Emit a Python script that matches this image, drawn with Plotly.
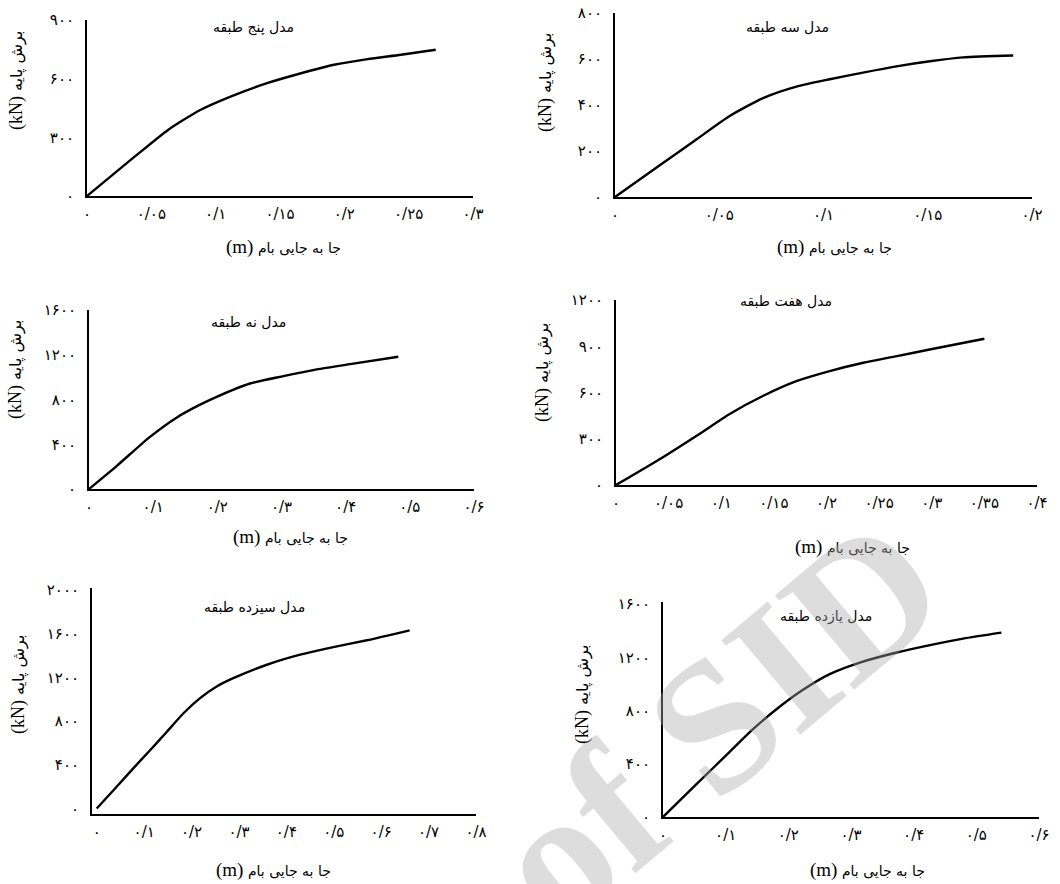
import plotly.graph_objects as go

W, H = 1060, 884

# ---------------- data ----------------
P1_X = [0, 0.037, 0.063, 0.088, 0.114, 0.140, 0.165, 0.192, 0.218, 0.244, 0.271]
P1_Y = [0, 201, 338, 440, 515, 577, 625, 671, 700, 722, 748]
P1_XT = [0, 0.05, 0.1, 0.15, 0.2, 0.25, 0.3]
P1_XL = ["۰", "۰/۰۵", "۰/۱", "۰/۱۵", "۰/۲", "۰/۲۵", "۰/۳"]
P1_YT = [0, 300, 600, 900]
P1_YL = ["۰", "۳۰۰", "۶۰۰", "۹۰۰"]

P2_X = [0, 0.023, 0.039, 0.055, 0.071, 0.087, 0.103, 0.119, 0.135, 0.151, 0.167, 0.191]
P2_Y = [0, 148, 250, 352, 430, 480, 512, 541, 568, 590, 607, 615]
P2_XT = [0, 0.05, 0.1, 0.15, 0.2]
P2_XL = ["۰", "۰/۰۵", "۰/۱", "۰/۱۵", "۰/۲"]
P2_YT = [0, 200, 400, 600, 800]
P2_YL = ["۰", "۲۰۰", "۴۰۰", "۶۰۰", "۸۰۰"]

P3_X = [0, 0.043, 0.095, 0.137, 0.170, 0.199, 0.251, 0.303, 0.355, 0.407, 0.482]
P3_Y = [0, 205, 466, 640, 745, 824, 943, 1009, 1069, 1116, 1182]
P3_XT = [0, 0.1, 0.2, 0.3, 0.4, 0.5, 0.6]
P3_XL = ["۰", "۰/۱", "۰/۲", "۰/۳", "۰/۴", "۰/۵", "۰/۶"]
P3_YT = [0, 400, 800, 1200, 1600]
P3_YL = ["۰", "۴۰۰", "۸۰۰", "۱۲۰۰", "۱۶۰۰"]

P4_X = [0, 0.045, 0.077, 0.108, 0.140, 0.172, 0.203, 0.235, 0.267, 0.298, 0.350]
P4_Y = [0, 182, 321, 461, 579, 675, 739, 793, 836, 879, 949]
P4_XT = [0, 0.05, 0.1, 0.15, 0.2, 0.25, 0.3, 0.35, 0.4]
P4_XL = ["۰", "۰/۰۵", "۰/۱", "۰/۱۵", "۰/۲", "۰/۲۵", "۰/۳", "۰/۳۵", "۰/۴"]
P4_YT = [0, 300, 600, 900, 1200]
P4_YL = ["۰", "۳۰۰", "۶۰۰", "۹۰۰", "۱۲۰۰"]

P5_X = [0, 0.042, 0.077, 0.113, 0.148, 0.183, 0.218, 0.253, 0.288, 0.359, 0.429, 0.499, 0.570, 0.660]
P5_Y = [0, 199, 368, 536, 704, 873, 1011, 1118, 1194, 1317, 1409, 1479, 1541, 1632]
P5_XT = [0, 0.1, 0.2, 0.3, 0.4, 0.5, 0.6, 0.7, 0.8]
P5_XL = ["۰", "۰/۱", "۰/۲", "۰/۳", "۰/۴", "۰/۵", "۰/۶", "۰/۷", "۰/۸"]
P5_YT = [0, 400, 800, 1200, 1600, 2000]
P5_YL = ["۰", "۴۰۰", "۸۰۰", "۱۲۰۰", "۱۶۰۰", "۲۰۰۰"]

P6_X = [0, 0.053, 0.106, 0.141, 0.181, 0.224, 0.266, 0.319, 0.373, 0.426, 0.479, 0.540]
P6_Y = [0, 245, 487, 648, 809, 957, 1073, 1167, 1236, 1291, 1340, 1385]
P6_XT = [0, 0.1, 0.2, 0.3, 0.4, 0.5, 0.6]
P6_XL = ["۰", "۰/۱", "۰/۲", "۰/۳", "۰/۴", "۰/۵", "۰/۶"]
P6_YT = [0, 400, 800, 1200, 1600]
P6_YL = ["۰", "۴۰۰", "۸۰۰", "۱۲۰۰", "۱۶۰۰"]

TITLES = ["مدل پنج طبقه", "مدل سه طبقه", "مدل نه طبقه",
          "مدل هفت طبقه", "مدل سیزده طبقه", "مدل یازده طبقه"]
XTITLE_FA = "جا به جایی بام"
YTITLE_FA = "برش پایه"
WATERMARK = "of SID"   # visible part of the page watermark

# ---------------- layout geometry (pixels) ----------------
panels = [
    dict(x=P1_X, y=P1_Y, xt=P1_XT, xl=P1_XL, yt=P1_YT, yl=P1_YL, xr=[0, 0.3], yr=[0, 900],
         box=(87, 473, 20, 196), tt=(253, 27), xtt=(283, 247), ytt=(16, 81)),
    dict(x=P2_X, y=P2_Y, xt=P2_XT, xl=P2_XL, yt=P2_YT, yl=P2_YL, xr=[0, 0.2], yr=[0, 800],
         box=(615, 1032, 13, 197), tt=(787, 27), xtt=(834, 247), ytt=(545, 83)),
    dict(x=P3_X, y=P3_Y, xt=P3_XT, xl=P3_XL, yt=P3_YT, yl=P3_YL, xr=[0, 0.6], yr=[0, 1600],
         box=(89, 474, 310, 489), tt=(248, 322), xtt=(290, 537), ytt=(15, 370)),
    dict(x=P4_X, y=P4_Y, xt=P4_XT, xl=P4_XL, yt=P4_YT, yl=P4_YL, xr=[0, 0.4], yr=[0, 1200],
         box=(616, 1037, 300, 485), tt=(786, 301), xtt=(852, 547), ytt=(542, 373)),
    dict(x=P5_X, y=P5_Y, xt=P5_XT, xl=P5_XL, yt=P5_YT, yl=P5_YL, xr=[-0.01, 0.8], yr=[-50, 2020],
         box=(92, 476, 588, 814), tt=(254, 607), xtt=(273, 870), ytt=(18, 685)),
    dict(x=P6_X, y=P6_Y, xt=P6_XT, xl=P6_XL, yt=P6_YT, yl=P6_YL, xr=[0, 0.6], yr=[0, 1615],
         box=(663, 1039, 602, 817), tt=(826, 616), xtt=(867, 870), ytt=(582, 695)),
]

FA_FONT = "DejaVu Sans"
LAT_FONT = "Liberation Serif"

fig = go.Figure()
annotations = []


def px(xp, yp):
    return xp / W, 1 - yp / H


for i, p in enumerate(panels, start=1):
    xa = "x" if i == 1 else f"x{i}"
    ya = "y" if i == 1 else f"y{i}"
    fig.add_trace(go.Scatter(
        x=p["x"], y=p["y"], mode="lines", xaxis=xa, yaxis=ya,
        line=dict(color="black", width=2.4, shape="spline", smoothing=0.6),
        showlegend=False, hoverinfo="skip"))
    l, r, t, b = p["box"]
    axis_common = dict(showgrid=False, zeroline=False, showline=True, linecolor="black",
                       linewidth=2, ticks="", automargin=False, ticklabeloverflow="allow",
                       tickfont=dict(family=FA_FONT, size=15, color="black"))
    fig.layout[f"xaxis{i if i > 1 else ''}"] = dict(
        domain=[l / W, r / W], range=p["xr"], anchor=ya, ticklabelstandoff=3,
        tickmode="array", tickvals=p["xt"], ticktext=p["xl"], **axis_common)
    fig.layout[f"yaxis{i if i > 1 else ''}"] = dict(
        domain=[1 - b / H, 1 - t / H], range=p["yr"], anchor=xa,
        ticklabelstandoff=8,
        tickmode="array", tickvals=p["yt"], ticktext=p["yl"], **axis_common)

    tx, ty = px(*p["tt"])
    annotations.append(dict(x=tx, y=ty, xref="paper", yref="paper", text=TITLES[i - 1],
                            xanchor="center", yanchor="middle", showarrow=False,
                            font=dict(family=FA_FONT, size=14, color="black")))
    ax_, ay_ = px(*p["xtt"])
    annotations.append(dict(
        x=ax_, y=ay_, xref="paper", yref="paper", showarrow=False,
        xanchor="center", yanchor="middle",
        text=f'<span style="font-family:{LAT_FONT};font-size:19px">(m)</span> {XTITLE_FA}',
        font=dict(family=FA_FONT, size=14, color="black")))
    bx, by = px(*p["ytt"])
    annotations.append(dict(
        x=bx, y=by, xref="paper", yref="paper", showarrow=False, textangle=-90,
        xanchor="center", yanchor="middle",
        text=f'<span style="font-family:{LAT_FONT};font-size:18px">(kN)</span> {YTITLE_FA}',
        font=dict(family=FA_FONT, size=16, color="black")))

# watermark
wx, wy = px(716, 722)
annotations.append(dict(x=wx, y=wy, xref="paper", yref="paper", showarrow=False,
                        xanchor="center", yanchor="middle",
                        text=f"<b>{WATERMARK}</b>", textangle=-40,
                        font=dict(family=LAT_FONT, size=188, color="rgba(170,170,170,0.4)")))

fig.update_layout(
    width=W, height=H, autosize=False,
    margin=dict(l=0, r=0, t=0, b=0, autoexpand=False),
    paper_bgcolor="white", plot_bgcolor="white",
    annotations=annotations,
    showlegend=False,
)

fig.write_html("out.html")
